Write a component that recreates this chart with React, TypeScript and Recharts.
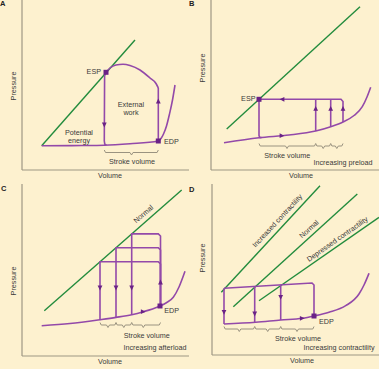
import React from 'react';
import { ComposedChart, Line, Scatter, XAxis, YAxis } from 'recharts';

// units are arbitrary volume / pressure units
type Row = [number, number];
type Txt = [number, number, string];

// ---- panel A: single loop
const aEspvr: Row[] = [[19.7, 24.3], [113, 130]];
const aEdpvr: Row[] = [[19.7, 24.3], [60, 24.5], [82, 24.8], [108, 26.3], [136.3, 29], [139, 31.5], [141.5, 36], [144.5, 44], [147.5, 56], [150.5, 70], [153, 85]];
const aLoopTop: Row[] = [[84, 97.7], [88, 102], [94, 105], [101, 105.7], [108, 104.5], [118, 100], [128, 92], [134, 86.5], [136.3, 82]];
const aLoopRight: Row[] = [[136.3, 82], [136.3, 29]];
const aLoopLeft: Row[] = [[84, 97.7], [82.6, 94], [82.3, 29], [82.8, 25.8], [84.5, 24.9]];
const aDots: Row[] = [[84, 97.7], [136.3, 29]];
const aDown: Row[] = [[82.3, 45]];
const aUp: Row[] = [[136.3, 69]];
const aBraces = [[82.3, 136.3, 109.5, 17.5]];
const aTextEnd: Txt[] = [[79, 99, 'ESP']];
const aTextMid: Txt[] = [[109, 66, 'External'], [109, 58, 'work'], [57, 38, 'Potential'], [57, 30, 'energy'], [110, 8.3, 'Stroke volume']];
const aTextStart: Txt[] = [[142, 28.3, 'EDP']];

// ---- panel B: increasing preload
const bEspvr: Row[] = [[15.7, 41], [149, 163.3]];
const bEdpvr: Row[] = [[13, 27.3], [48, 32.3], [78, 35], [104.7, 39], [119.7, 43.3], [132, 48], [143, 54.5], [151.3, 63.3], [156, 73], [159.7, 82.7]];
const bTop: Row[] = [[48, 70.7], [130, 70.7], [132, 68.5], [132, 48]];
const bMid1: Row[] = [[104.7, 70.7], [104.7, 39]];
const bMid2: Row[] = [[119.7, 70.7], [119.7, 43.3]];
const bLeft: Row[] = [[48, 70.7], [48, 34.5], [48.8, 32.6], [50.5, 32.4]];
const bDots: Row[] = [[48, 70.7]];
const bLeftArrows: Row[] = [[71, 70.7]];
const bUp: Row[] = [[104.7, 61.7], [119.7, 61.7], [132, 61.7]];
const bRight: Row[] = [[71, 34.3]];
const bBraces = [[48, 104.7, 76, 24], [104.7, 119.7, 112.2, 24], [119.7, 132, 125.8, 24]];
const bTextEnd: Txt[] = [[44.5, 71.7, 'ESP']];
const bTextMid: Txt[] = [[76.3, 15, 'Stroke volume'], [132, 7.3, 'Increasing preload']];

// ---- panel C: increasing afterload
const cEspvr: Row[] = [[22.3, 45.3], [159.7, 166]];
const cEdpvr: Row[] = [[19.7, 30.3], [48, 32.5], [78, 36.3], [94, 38.6], [109.7, 41.3], [121.3, 44.3], [136.3, 49.3], [144, 53], [151.3, 58.7], [157, 69], [163, 84.7]];
const cLoop1: Row[] = [[78, 36.3], [78, 94.2], [136.3, 94.2], [138.5, 92], [138.5, 50]];
const cLoop2: Row[] = [[94, 38.6], [94, 108.3], [136.3, 108.3], [138.5, 106], [138.5, 50]];
const cLoop3: Row[] = [[109.7, 41.3], [109.7, 122.1], [136.3, 122.1], [138.5, 120], [138.5, 50]];
const cDots: Row[] = [[138, 50]];
const cDown: Row[] = [[78, 68], [94, 68], [109.7, 68]];
const cUp: Row[] = [[138.5, 74]];
const cRight: Row[] = [[121.3, 44.3]];
const cBraces = [[78, 94, 86, 31], [94, 109.7, 101.8, 31], [109.7, 138.5, 121.3, 31]];
const cTextMid: Txt[] = [[124.7, 21, 'Stroke volume'], [133, 8.7, 'Increasing afterload']];
const cTextStart: Txt[] = [[142.3, 45.3, 'EDP']];
const cNormal: Txt[] = [[121.3, 142, 'Normal']];

// ---- panel D: contractility
const dInc: Row[] = [[9.3, 62.7], [108, 169.3]];
const dNorm: Row[] = [[21.3, 48.3], [145.3, 161]];
const dDep: Row[] = [[47, 54.3], [167, 137.7]];
const dEdpvr: Row[] = [[12, 31], [43.7, 32.7], [68.7, 35], [90.3, 36.7], [102, 39], [117, 42.7], [133.7, 49.3], [147, 61], [152, 70], [157, 81.7]];
const dTop: Row[] = [[12, 66.7], [100, 72], [102, 70], [102, 39]];
const dLeft1: Row[] = [[12, 66.7], [12, 31]];
const dLeft2: Row[] = [[42.7, 68.5], [42.7, 32.7]];
const dLeft3: Row[] = [[68.7, 70.1], [68.7, 35]];
const dDots: Row[] = [[102, 39]];
const dDown: Row[] = [[12, 42.7], [42.7, 41], [68.7, 57.7]];
const dRight: Row[] = [[90.3, 36.7]];
const dBraces = [[12, 42.7, 27.3, 26], [42.7, 68.7, 55.7, 26], [68.7, 102, 85, 26]];
const dTextMid: Txt[] = [[86, 16.7, 'Stroke volume'], [127, 7.7, 'Increasing contractility']];
const dTextStart: Txt[] = [[107, 33.7, 'EDP']];
const dIncLabel: Txt[] = [[65.3, 134.3, 'Increased contractility']];
const dNormLabel: Txt[] = [[97, 126, 'Normal']];
const dDepLabel: Txt[] = [[125.3, 116, 'Depressed contractility']];

const BG = '#fdf1cf';
const PURPLE = '#9349a9';
const DOT = '#6a2286';
const GREEN = '#238c3d';
const AXIS = '#9e9884';
const BRACE = '#9a9380';
const INK = '#3a3a3a';
const FONT = '"Liberation Sans", Arial, sans-serif';

const pts = (rows: Row[]) => rows.map(([v, p]) => ({ v, p }));
const txt = (rows: Txt[]) => rows.map(([v, p, t]) => ({ v, p, t }));

const line = (key: string, rows: Row[], color: string, type: any = 'linear', w = 1.6) => (
  <Line key={key} data={pts(rows)} dataKey="p" type={type} stroke={color} strokeWidth={w}
    dot={false} activeDot={false} isAnimationActive={false} />
);

const braceRows = (b: number[]): Row[] => {
  const [from, to, tip, lvl] = b;
  return [[from, lvl + 2.5], [from + 1.2, lvl], [tip - 1.5, lvl], [tip, lvl - 2.5], [tip + 1.5, lvl], [to - 1.2, lvl], [to, lvl + 2.5]];
};
const braces = (key: string, list: number[][]) => list.map((b, i) => line(`${key}${i}`, braceRows(b), BRACE, 'linear', 1));

const square = (props: any) => (
  <rect x={props.cx - 2.5} y={props.cy - 2.5} width={5} height={5} fill={DOT} />
);
const arrow = (dir: 'up' | 'down' | 'left' | 'right') => (props: any) => {
  const { cx, cy } = props;
  const s = 2.4;
  let p = '';
  if (dir === 'up') p = `${cx},${cy - s} ${cx - s},${cy + s} ${cx + s},${cy + s}`;
  if (dir === 'down') p = `${cx},${cy + s} ${cx - s},${cy - s} ${cx + s},${cy - s}`;
  if (dir === 'left') p = `${cx - s},${cy} ${cx + s},${cy - s} ${cx + s},${cy + s}`;
  if (dir === 'right') p = `${cx + s},${cy} ${cx - s},${cy - s} ${cx - s},${cy + s}`;
  return <polygon points={p} fill={DOT} />;
};
const label = (anchor: 'start' | 'middle' | 'end', angle = 0) => (props: any) => (
  <text x={props.cx} y={props.cy} textAnchor={anchor} dominantBaseline="central" fontSize={7.2}
    fontFamily={FONT} fill={INK}
    transform={angle ? `rotate(${angle} ${props.cx} ${props.cy})` : undefined}>
    {props.payload.t}
  </text>
);

const marks = (key: string, rows: Row[], shape: any) => (
  <Scatter key={key} data={pts(rows)} dataKey="p" shape={shape} isAnimationActive={false} />
);
const texts = (key: string, rows: Txt[], anchor: 'start' | 'middle' | 'end', angle = 0) => (
  <Scatter key={key} data={txt(rows)} dataKey="p" shape={label(anchor, angle)} isAnimationActive={false} />
);

const Panel = ({ x, y, w, h, ax, ay, children }: any) => (
  <div style={{ position: 'absolute', left: x, top: y, width: w, height: h }}>
    <ComposedChart width={w} height={h} margin={{ top: 0, right: 0, bottom: 0, left: 0 }}>
      <XAxis type="number" dataKey="v" domain={[0, w - ax]} allowDataOverflow height={h - ay}
        tick={false} tickLine={false} axisLine={{ stroke: AXIS, strokeWidth: 1.2 }} />
      <YAxis type="number" dataKey="p" domain={[0, ay]} allowDataOverflow width={ax}
        tick={false} tickLine={false} axisLine={{ stroke: AXIS, strokeWidth: 1.2 }} />
      {children}
    </ComposedChart>
  </div>
);

const Title = ({ x, y, text, rotate = false }: any) => (
  <div style={{
    position: 'absolute', left: x, top: y, transform: `translate(-50%, -50%)${rotate ? ' rotate(-90deg)' : ''}`,
    fontSize: 7.2, fontFamily: FONT, color: INK, whiteSpace: 'nowrap', lineHeight: 1,
  }}>{text}</div>
);

const Letter = ({ x, y, text }: any) => (
  <div style={{ position: 'absolute', left: x, top: y, fontSize: 7.5, fontWeight: 700, fontFamily: FONT, color: '#222', lineHeight: 1 }}>{text}</div>
);

export default function App() {
  return (
    <div style={{ position: 'absolute', left: 0, top: 0, width: 379, height: 369, background: BG, overflow: 'hidden' }}>
      <Panel x={0} y={0} w={189} h={184} ax={22} ay={170}>
        {[
          line('aesp', aEspvr, GREEN, 'linear', 1.4),
          line('aedp', aEdpvr, PURPLE, 'monotone'),
          line('atop', aLoopTop, PURPLE, 'monotone'),
          line('aright', aLoopRight, PURPLE),
          line('aleft', aLoopLeft, PURPLE),
          ...braces('abr', aBraces),
          marks('adots', aDots, square),
          marks('adown', aDown, arrow('down')),
          marks('aup', aUp, arrow('up')),
          texts('at1', aTextEnd, 'end'),
          texts('at2', aTextMid, 'middle'),
          texts('at3', aTextStart, 'start'),
        ]}
      </Panel>
      <Panel x={189} y={0} w={190} h={184} ax={22} ay={170}>
        {[
          line('besp', bEspvr, GREEN, 'linear', 1.4),
          line('bedp', bEdpvr, PURPLE, 'monotone'),
          line('btop', bTop, PURPLE),
          line('bm1', bMid1, PURPLE),
          line('bm2', bMid2, PURPLE),
          line('bleft', bLeft, PURPLE),
          ...braces('bbr', bBraces),
          marks('bdots', bDots, square),
          marks('bl', bLeftArrows, arrow('left')),
          marks('bup', bUp, arrow('up')),
          marks('br', bRight, arrow('right')),
          texts('bt1', bTextEnd, 'end'),
          texts('bt2', bTextMid, 'middle'),
        ]}
      </Panel>
      <Panel x={0} y={184} w={189} h={185} ax={22} ay={172}>
        {[
          line('cesp', cEspvr, GREEN, 'linear', 1.4),
          line('cedp', cEdpvr, PURPLE, 'monotone'),
          line('cl1', cLoop1, PURPLE),
          line('cl2', cLoop2, PURPLE),
          line('cl3', cLoop3, PURPLE),
          ...braces('cbr', cBraces),
          marks('cdots', cDots, square),
          marks('cdown', cDown, arrow('down')),
          marks('cup', cUp, arrow('up')),
          marks('cr', cRight, arrow('right')),
          texts('ct1', cTextMid, 'middle'),
          texts('ct2', cTextStart, 'start'),
          texts('ct3', cNormal, 'middle', -41),
        ]}
      </Panel>
      <Panel x={189} y={184} w={190} h={185} ax={23} ay={171}>
        {[
          line('dinc', dInc, GREEN, 'linear', 1.4),
          line('dnorm', dNorm, GREEN, 'linear', 1.4),
          line('ddep', dDep, GREEN, 'linear', 1.4),
          line('dedp', dEdpvr, PURPLE, 'monotone'),
          line('dtop', dTop, PURPLE),
          line('dl1', dLeft1, PURPLE),
          line('dl2', dLeft2, PURPLE),
          line('dl3', dLeft3, PURPLE),
          ...braces('dbr', dBraces),
          marks('ddots', dDots, square),
          marks('ddown', dDown, arrow('down')),
          marks('dr', dRight, arrow('right')),
          texts('dt1', dTextMid, 'middle'),
          texts('dt2', dTextStart, 'start'),
          texts('dt3', dIncLabel, 'middle', -47),
          texts('dt4', dNormLabel, 'middle', -42),
          texts('dt5', dDepLabel, 'middle', -35),
        ]}
      </Panel>

      <Title x={14} y={86} text="Pressure" rotate />
      <Title x={110} y={176} text="Volume" />
      <Title x={203} y={68} text="Pressure" rotate />
      <Title x={301} y={176} text="Volume" />
      <Title x={14} y={281} text="Pressure" rotate />
      <Title x={110} y={362} text="Volume" />
      <Title x={203} y={258} text="Pressure" rotate />
      <Title x={302} y={361} text="Volume" />

      <Letter x={0} y={0} text="A" />
      <Letter x={189} y={0} text="B" />
      <Letter x={1} y={185} text="C" />
      <Letter x={189} y={186} text="D" />
    </div>
  );
}
